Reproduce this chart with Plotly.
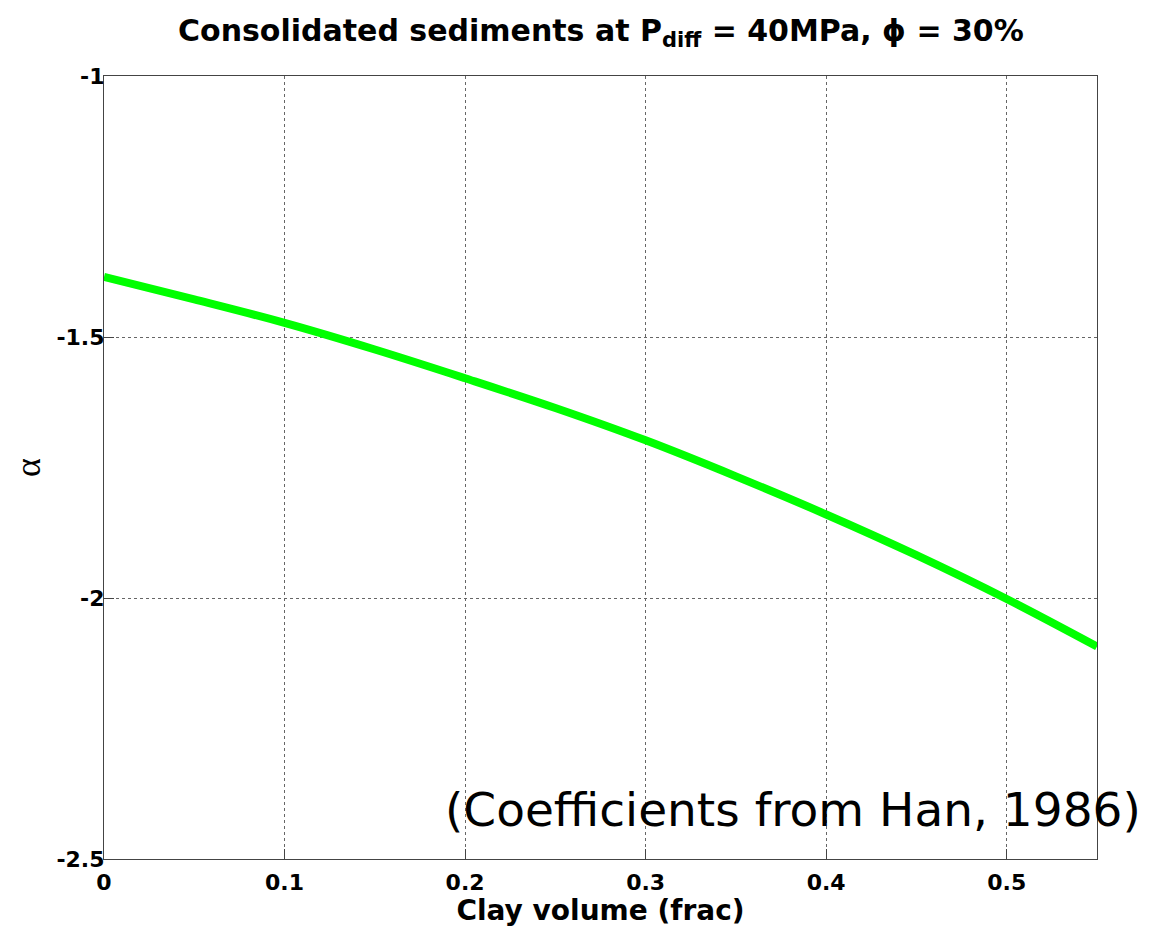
import plotly.graph_objects as go

clay_volume = [0.0, 0.05, 0.1, 0.15, 0.2, 0.25, 0.3, 0.35, 0.4, 0.45, 0.5, 0.55]
alpha = [-1.385, -1.428, -1.473, -1.524, -1.579, -1.636, -1.698, -1.767, -1.840, -1.918, -2.002, -2.093]

x_ticks = [0, 0.1, 0.2, 0.3, 0.4, 0.5]
x_tick_labels = ["0", "0.1", "0.2", "0.3", "0.4", "0.5"]
y_ticks = [-2.5, -2, -1.5, -1]
y_tick_labels = ["-2.5", "-2", "-1.5", "-1"]

FONT = "DejaVu Sans"

fig = go.Figure()
fig.add_trace(go.Scatter(x=clay_volume, y=alpha, mode="lines",
                         line=dict(color="#00ff00", width=8, shape="spline"),
                         showlegend=False, hoverinfo="skip"))

axis_common = dict(
    showline=True, mirror=True, linecolor="#444444", linewidth=1.2,
    ticks="inside", ticklen=10, tickcolor="#444444", tickwidth=1.2,
    showgrid=True, gridcolor="#666666", griddash="dot", gridwidth=1,
    zeroline=False, automargin=False,
    tickfont=dict(family=FONT, size=22, color="black", weight="bold"),
)

fig.update_xaxes(range=[0, 0.55], tickvals=x_ticks, ticktext=x_tick_labels,
                 ticklabelstandoff=3,
                 title=dict(text="<b>Clay volume (frac)</b>", standoff=6,
                            font=dict(family=FONT, size=28, color="black")),
                 **axis_common)
fig.update_yaxes(range=[-2.5, -1], tickvals=y_ticks, ticktext=y_tick_labels,
                 ticklabelstandoff=-6,
                 title=dict(text="α", standoff=34,
                            font=dict(family="Liberation Serif", size=36, color="black")),
                 **axis_common)

fig.add_annotation(text="<b>Consolidated sediments at P<sub>diff</sub> = 40MPa, ϕ = 30%</b>",
                   xref="paper", yref="paper", x=0.5, y=1.0, yshift=44,
                   xanchor="center", yanchor="middle", showarrow=False,
                   font=dict(family=FONT, size=30, color="black"))

fig.add_annotation(text="(Coefficients from Han, 1986)",
                   xref="paper", yref="paper", x=1.046, y=0.0, yshift=20,
                   xanchor="right", yanchor="bottom", showarrow=False,
                   font=dict(family="DejaVu Sans", size=47, color="black"))

fig.update_layout(
    width=1146, height=925,
    margin=dict(l=96, r=57, t=68, b=74),
    paper_bgcolor="white", plot_bgcolor="white",
)

fig.write_html("out.html")
